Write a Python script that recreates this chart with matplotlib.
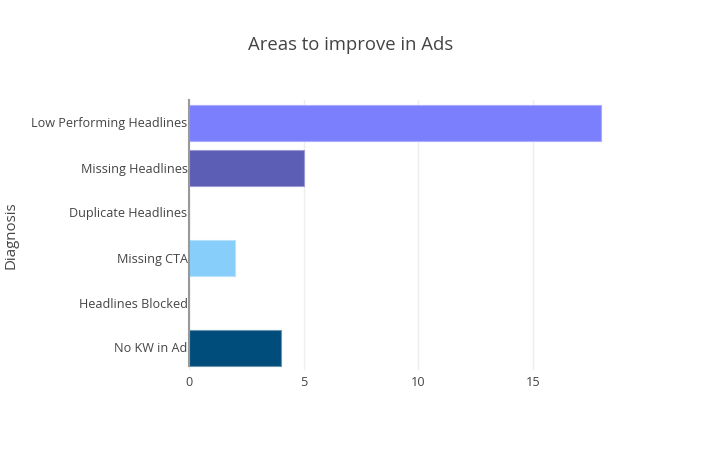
import matplotlib.pyplot as plt

# data
diagnosis = ['Low Performing Headlines', 'Missing Headlines', 'Duplicate Headlines',
             'Missing CTA', 'Headlines Blocked', 'No KW in Ad']
counts = [18, 5, 0, 2, 0, 4]
colors = ['#7b7ffd', '#5c5db4', '#2a6f97', '#87cefa', '#3a9bd5', '#004c7a']
edges = ['#a9abfd', '#9a9bd6', '#7fa9c1', '#b7e2fc', '#89c3e6', '#6b94af']

plt.rcParams['font.family'] = ['Open Sans', 'DejaVu Sans']

fig = plt.figure(figsize=(7.02, 4.5), dpi=100)
ax = fig.add_axes([189 / 702, 80 / 450, 433 / 702, 270 / 450])

pos = list(range(len(diagnosis)))[::-1]
ax.barh(pos, counts, height=0.8, color=colors, edgecolor=edges, linewidth=0.8, zorder=3)

ax.set_xlim(0, 18.9)
ax.set_ylim(-0.5, 5.5)
ax.set_xticks([0, 5, 10, 15])
ax.set_yticks(pos)
ax.set_yticklabels(diagnosis)
ax.tick_params(axis='both', length=0, labelsize=9.1, labelcolor='#444444')
ax.tick_params(axis='y', pad=1)
ax.tick_params(axis='x', pad=4)
ax.grid(axis='x', color='#eeeeee', linewidth=1, zorder=0)
for s in ['top', 'right', 'bottom']:
    ax.spines[s].set_visible(False)
ax.spines['left'].set_color('#999999')
ax.spines['left'].set_linewidth(1.5)
ax.spines['left'].set_zorder(4)
ax.spines['left'].set_bounds(-0.4, 5.5)

ax.set_ylabel('Diagnosis', fontsize=10.8, color='#444444', labelpad=9)
fig.text(0.5, 1 - 45 / 450, 'Areas to improve in Ads', ha='center', va='center',
         fontsize=13.3, color='#444444')

fig.savefig('out.png', dpi=100)
